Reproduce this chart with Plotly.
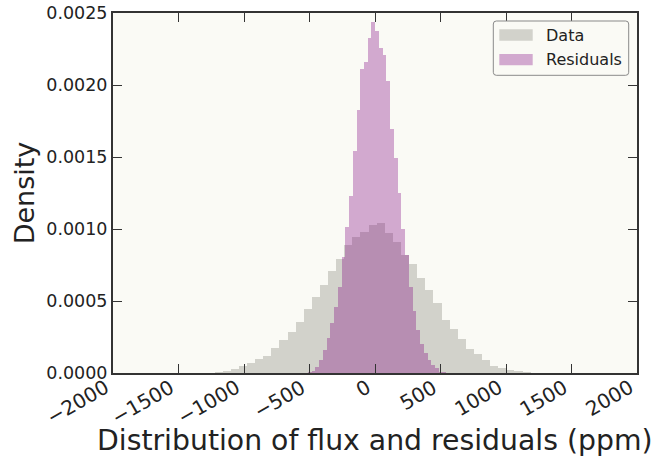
import plotly.graph_objects as go

# ---- data (densities) ----
data_bin_start = -1286.0
data_bin_width = 61.85
data_density = [
    0.0000035, 0.000007, 0.000014, 0.000031, 0.000049, 0.000069, 0.000094, 0.000118,
    0.000174, 0.000229, 0.000285, 0.000354, 0.000444, 0.000526, 0.000611, 0.000710,
    0.000790, 0.000889, 0.000947, 0.000981, 0.001028, 0.001040, 0.000974, 0.000912,
    0.000820, 0.000757, 0.000658, 0.000576, 0.000488, 0.000368, 0.000303, 0.000234,
    0.000167, 0.000130, 0.000090, 0.000051, 0.000033, 0.000021, 0.000014, 0.000005,
]

resid_bin_start = -541.6
resid_bin_width = 28.6
resid_density = [
    0.000002, 0.000007, 0.000017, 0.000045, 0.000090, 0.000160, 0.000243, 0.000347,
    0.000458, 0.000597, 0.000806, 0.001014, 0.001229, 0.001542, 0.001826, 0.002111,
    0.002160, 0.002326, 0.002438, 0.002375, 0.002257, 0.002208, 0.002028, 0.001694,
    0.001493, 0.001250, 0.001000, 0.000819, 0.000597, 0.000431, 0.000299, 0.000201,
    0.000139, 0.000090, 0.000056, 0.000035, 0.000010, 0.000005,
]

series_names = ["Data", "Residuals"]
x_ticks = [-2000, -1500, -1000, -500, 0, 500, 1000, 1500, 2000]
x_ticklabels = ["\u22122000", "\u22121500", "\u22121000", "\u2212500", "0", "500", "1000", "1500", "2000"]
y_ticks = [0.0, 0.0005, 0.0010, 0.0015, 0.0020, 0.0025]
y_ticklabels = ["0.0000", "0.0005", "0.0010", "0.0015", "0.0020", "0.0025"]
x_title = "Distribution of flux and residuals (ppm)"
y_title = "Density"

data_centers = [data_bin_start + data_bin_width * (i + 0.5) for i in range(len(data_density))]
resid_centers = [resid_bin_start + resid_bin_width * (i + 0.5) for i in range(len(resid_density))]

FONT = "DejaVu Sans"
BG = "rgb(250,250,245)"
AX = "#333333"
TXT = "#222222"
DATA_COL = "rgba(150,150,140,0.4)"
RES_COL = "rgba(128,0,128,0.32)"

W, H = 654, 458
ML, MR, MT, MB = 113, 17, 13, 85
PW, PH = W - ML - MR, H - MT - MB


def px_x(px):
    return (px - ML) / PW


def px_y(py):
    return (H - MB - py) / PH


fig = go.Figure()
fig.add_trace(go.Bar(
    x=data_centers, y=data_density, width=data_bin_width, name=series_names[0],
    marker=dict(color=DATA_COL, line=dict(width=0)), showlegend=False,
))
fig.add_trace(go.Bar(
    x=resid_centers, y=resid_density, width=resid_bin_width, name=series_names[1],
    marker=dict(color=RES_COL, line=dict(width=0)), showlegend=False,
))

annotations = []
# x tick labels, rotated, right-aligned to each tick (matplotlib style)
for v, t in zip(x_ticks, x_ticklabels):
    annotations.append(dict(
        x=v, y=px_y(H - MB - 1), xref="x", yref="paper", text=t, showarrow=False,
        textangle=-30, xanchor="right", yanchor="top", xshift=3,
        font=dict(family=FONT, size=20, color=TXT),
    ))
# x axis title
annotations.append(dict(
    x=0.5, y=px_y(440), xref="paper", yref="paper", text=x_title, showarrow=False,
    xanchor="center", yanchor="middle", font=dict(family=FONT, size=28.3, color=TXT),
))

# legend (matplotlib-like box with wide patches)
shapes = []
bx0, bx1, by0, by1 = px_x(493.3), px_x(628.7), px_y(75.3), px_y(21)
rx, ry = 3 / PW, 3 / PH
path = (f"M {bx0+rx},{by0} L {bx1-rx},{by0} Q {bx1},{by0} {bx1},{by0+ry} "
        f"L {bx1},{by1-ry} Q {bx1},{by1} {bx1-rx},{by1} L {bx0+rx},{by1} "
        f"Q {bx0},{by1} {bx0},{by1-ry} L {bx0},{by0+ry} Q {bx0},{by0} {bx0+rx},{by0} Z")
shapes.append(dict(type="path", path=path, xref="paper", yref="paper",
                   fillcolor=BG, line=dict(color="#8a8a8a", width=1), layer="above"))
legend_rows = [(series_names[0], DATA_COL, 29.3, 40.7, 35.5), (series_names[1], RES_COL, 54, 65.3, 60)]
for name, col, t0, t1, ty in legend_rows:
    shapes.append(dict(type="rect", xref="paper", yref="paper",
                       x0=px_x(499.3), x1=px_x(532.7), y0=px_y(t1), y1=px_y(t0),
                       fillcolor=col, line=dict(width=0), layer="above"))
    annotations.append(dict(
        x=px_x(544), y=px_y(ty), xref="paper", yref="paper", text=name, showarrow=False,
        xanchor="left", yanchor="middle", font=dict(family=FONT, size=16, color=TXT),
    ))

fig.update_layout(
    width=W, height=H,
    margin=dict(l=ML, r=MR, t=MT, b=MB),
    paper_bgcolor="white", plot_bgcolor=BG,
    barmode="overlay", bargap=0,
    font=dict(family=FONT, size=17, color=TXT),
    showlegend=False,
    annotations=annotations,
    shapes=shapes,
    xaxis=dict(
        range=[-2000, 2000], tickmode="array", tickvals=x_ticks, showticklabels=False,
        ticks="inside", ticklen=9, tickwidth=1, tickcolor=AX,
        showline=True, linewidth=2, linecolor=AX, mirror="allticks",
        showgrid=False, zeroline=False, automargin=False,
    ),
    yaxis=dict(
        range=[0, 0.0025], tickmode="array", tickvals=y_ticks, ticktext=y_ticklabels,
        ticks="inside", ticklen=9, tickwidth=1, tickcolor=AX,
        showline=True, linewidth=2, linecolor=AX, mirror="allticks",
        showgrid=False, zeroline=False, automargin=False,
        tickfont=dict(family=FONT, size=17.5, color=TXT),
        title=dict(text=y_title, font=dict(family=FONT, size=27, color=TXT), standoff=4),
    ),
)

fig.write_html("out.html", config={"displayModeBar": False},
               post_script="document.body.style.margin='0';document.body.style.padding='0';")
